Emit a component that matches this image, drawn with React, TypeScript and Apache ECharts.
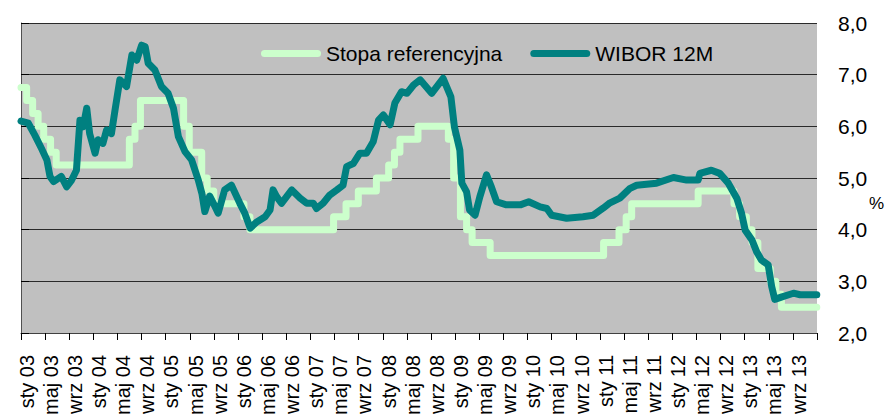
import React, { useEffect, useRef } from "react";
import * as echarts from "echarts";

// Tick labels of the x axis (every 4 months, Jan 2003 .. Sep 2013)
const xTickLabels = [
  "sty 03", "maj 03", "wrz 03", "sty 04", "maj 04", "wrz 04", "sty 05", "maj 05", "wrz 05",
  "sty 06", "maj 06", "wrz 06", "sty 07", "maj 07", "wrz 07", "sty 08", "maj 08", "wrz 08",
  "sty 09", "maj 09", "wrz 09", "sty 10", "maj 10", "wrz 10", "sty 11", "maj 11", "wrz 11",
  "sty 12", "maj 12", "wrz 12", "sty 13", "maj 13", "wrz 13",
];
const yTickValues = [2, 3, 4, 5, 6, 7, 8];

// Stopa referencyjna (NBP reference rate) – change dates and values
const refDates = [
  "2003-01-01", "2003-01-30", "2003-02-27", "2003-03-27", "2003-04-24", "2003-05-29", "2003-06-26",
  "2004-06-30", "2004-07-29", "2004-08-26", "2005-03-31", "2005-04-28", "2005-06-30", "2005-07-28",
  "2005-08-31", "2006-01-31", "2006-02-28", "2007-04-26", "2007-06-28", "2007-08-30", "2007-11-29",
  "2008-01-31", "2008-02-28", "2008-03-27", "2008-06-26", "2008-11-27", "2008-12-24", "2009-01-28",
  "2009-02-26", "2009-03-26", "2009-06-25", "2011-01-20", "2011-04-06", "2011-05-12", "2011-06-09",
  "2012-05-10", "2012-11-08", "2012-12-06", "2013-01-10", "2013-02-07", "2013-03-07", "2013-05-09",
  "2013-06-06", "2013-07-04", "2013-12-31",
];
const refValues = [
  6.75, 6.5, 6.25, 6.0, 5.75, 5.5, 5.25,
  5.75, 6.0, 6.5, 6.0, 5.5, 5.0, 4.75,
  4.5, 4.25, 4.0, 4.25, 4.5, 4.75, 5.0,
  5.25, 5.5, 5.75, 6.0, 5.75, 5.0, 4.25,
  4.0, 3.75, 3.5, 3.75, 4.0, 4.25, 4.5,
  4.75, 4.5, 4.25, 4.0, 3.75, 3.25, 3.0,
  2.75, 2.5, 2.5,
];

// WIBOR 12M – dates and values
const wiborDates = [
  "2003-01-01", "2003-02-07", "2003-03-10", "2003-04-13", "2003-05-10", "2003-05-26", "2003-06-13",
  "2003-07-22", "2003-08-19", "2003-09-13", "2003-10-07", "2003-10-25", "2003-11-10", "2003-11-28",
  "2003-12-13", "2004-01-10", "2004-01-25", "2004-02-18", "2004-03-07", "2004-04-01", "2004-04-19",
  "2004-05-13", "2004-06-16", "2004-07-13", "2004-08-07", "2004-09-01", "2004-09-19", "2004-10-04",
  "2004-11-07", "2004-12-10", "2005-01-13", "2005-02-09", "2005-03-04", "2005-04-07", "2005-05-10",
  "2005-06-13", "2005-07-01", "2005-07-16", "2005-08-10", "2005-09-07", "2005-09-22", "2005-10-25",
  "2005-11-28", "2006-01-10", "2006-02-04", "2006-03-01", "2006-04-04", "2006-05-16", "2006-06-10",
  "2006-06-25", "2006-07-13", "2006-08-07", "2006-09-28", "2006-11-10", "2006-12-13", "2007-01-16",
  "2007-02-01", "2007-03-04", "2007-04-07", "2007-05-13", "2007-06-13", "2007-07-01", "2007-08-04",
  "2007-09-07", "2007-10-10", "2007-11-13", "2007-12-10", "2008-01-04", "2008-02-07", "2008-03-01",
  "2008-04-04", "2008-05-01", "2008-06-04", "2008-07-07", "2008-09-04", "2008-11-01", "2008-12-10",
  "2008-12-28", "2009-01-25", "2009-02-04", "2009-02-26", "2009-03-13", "2009-04-10", "2009-05-04",
  "2009-06-07", "2009-07-01", "2009-07-28", "2009-09-16", "2009-11-25", "2010-01-07", "2010-03-04",
  "2010-04-07", "2010-05-01", "2010-07-16", "2010-10-07", "2010-11-28", "2011-01-19", "2011-02-20",
  "2011-04-10", "2011-06-01", "2011-07-04", "2011-10-13", "2012-01-07", "2012-03-13", "2012-05-10",
  "2012-05-19", "2012-07-16", "2012-08-28", "2012-10-10", "2012-11-22", "2012-12-16", "2013-01-04",
  "2013-02-07", "2013-03-01", "2013-03-26", "2013-04-28", "2013-05-16", "2013-06-01", "2013-07-07",
  "2013-09-04", "2013-10-07", "2013-12-31",
];
const wiborValues = [
  6.1, 6.06, 5.83, 5.57, 5.35, 5.03, 4.93,
  5.03, 4.83, 4.96, 5.15, 6.12, 5.99, 6.35,
  5.86, 5.48, 5.74, 5.67, 5.93, 5.86, 6.32,
  6.9, 6.77, 7.38, 7.28, 7.57, 7.54, 7.22,
  7.09, 6.77, 6.64, 6.35, 5.8, 5.51, 5.35,
  4.96, 4.7, 4.35, 4.65, 4.44, 4.32, 4.77,
  4.86, 4.51, 4.32, 4.03, 4.15, 4.25, 4.38,
  4.77, 4.64, 4.51, 4.77, 4.61, 4.51, 4.51,
  4.41, 4.51, 4.67, 4.77, 4.86, 5.22, 5.28,
  5.48, 5.48, 5.7, 6.12, 6.22, 6.03, 6.45,
  6.67, 6.64, 6.8, 6.9, 6.64, 6.93, 6.57,
  5.99, 5.54, 4.9, 4.73, 4.38, 4.28, 4.64,
  5.06, 4.83, 4.54, 4.48, 4.48, 4.54, 4.44,
  4.41, 4.28, 4.22, 4.25, 4.28, 4.42, 4.52,
  4.61, 4.8, 4.86, 4.9, 5.01, 4.96, 4.96,
  5.09, 5.15, 5.09, 4.9, 4.61, 4.32, 3.99,
  3.8, 3.57, 3.41, 3.32, 2.9, 2.65, 2.7,
  2.77, 2.74, 2.74,
];

const START_YEAR = 2003;
const LABEL_SHIFT = 0.95;
const FONT = "'Liberation Sans', Arial, sans-serif";

function toMonth(d: string): number {
  const [y, m, day] = d.split("-").map(Number);
  const dim = new Date(y, m, 0).getDate();
  return (y - START_YEAR) * 12 + (m - 1) + (day - 1) / dim;
}

export default function App() {
  const ref = useRef<HTMLDivElement>(null);
  useEffect(() => {
    if (!ref.current) return;
    const chart = echarts.init(ref.current, null, { renderer: "svg" });
    const refData = refDates.map((d, i) => [toMonth(d), refValues[i]]);
    const wiborData = wiborDates.map((d, i) => [toMonth(d), wiborValues[i]]);
    const labelPositions = xTickLabels.map((_, i) => i * 4 + LABEL_SHIFT);
    const capsule = "path://M3.5,0L56.5,0A3.5,3.5,0,0,1,56.5,7L3.5,7A3.5,3.5,0,0,1,3.5,0Z";
    chart.setOption({
      animation: false,
      backgroundColor: "#ffffff",
      textStyle: { fontFamily: FONT },
      grid: {
        left: 21,
        right: 68,
        top: 23,
        bottom: 81,
        show: true,
        backgroundColor: "#C0C0C0",
        borderWidth: 0,
        containLabel: false,
        outerBoundsMode: "none",
      },
      legend: {
        left: 256,
        top: 38,
        itemWidth: 60,
        itemHeight: 7,
        itemGap: 28,
        icon: capsule,
        textStyle: { fontSize: 21, color: "#000", fontFamily: FONT },
        data: ["Stopa referencyjna", "WIBOR 12M"],
      },
      xAxis: {
        type: "value",
        min: 0,
        max: 132,
        interval: 4,
        splitLine: { show: false },
        axisLine: { show: true, lineStyle: { color: "#404040", width: 1 } },
        axisTick: { show: true, length: 7, lineStyle: { color: "#000", width: 1 } },
        axisLabel: {
          customValues: labelPositions,
          rotate: 90,
          margin: 22,
          fontSize: 20,
          color: "#000",
          fontFamily: FONT,
          formatter: (v: number) => {
            const idx = Math.round((v - LABEL_SHIFT) / 4);
            return xTickLabels[idx] ?? "";
          },
        },
      },
      yAxis: {
        type: "value",
        position: "right",
        min: yTickValues[0],
        max: yTickValues[yTickValues.length - 1],
        interval: 1,
        axisLine: { show: true, lineStyle: { color: "#505050", width: 1 } },
        axisTick: { show: true, inside: false, length: 8, lineStyle: { color: "#000", width: 1 } },
        splitLine: { show: true, lineStyle: { color: "#2a2a2a", width: 1 } },
        axisLabel: {
          margin: 21,
          fontSize: 21,
          color: "#000",
          fontFamily: FONT,
          formatter: (v: number) => v.toFixed(1).replace(".", ","),
        },
      },
      graphic: [
        {
          type: "text",
          left: 869,
          top: 195,
          style: { text: "%", fontSize: 17, fill: "#000", fontFamily: FONT },
        },
      ],
      series: [
        {
          name: "Stopa referencyjna",
          type: "line",
          step: "end",
          data: refData,
          showSymbol: false,
          symbol: "none",
          color: "#CCFFCC",
          lineStyle: { color: "#CCFFCC", width: 7, cap: "round", join: "round" },
          z: 2,
        },
        {
          name: "WIBOR 12M",
          type: "line",
          data: wiborData,
          showSymbol: false,
          symbol: "none",
          color: "#008080",
          lineStyle: { color: "#008080", width: 7, cap: "round", join: "round" },
          z: 3,
        },
      ],
    });
    return () => chart.dispose();
  }, []);
  return (
    <div
      ref={ref}
      style={{ position: "fixed", left: 0, top: 0, width: 885, height: 414 }}
    />
  );
}
